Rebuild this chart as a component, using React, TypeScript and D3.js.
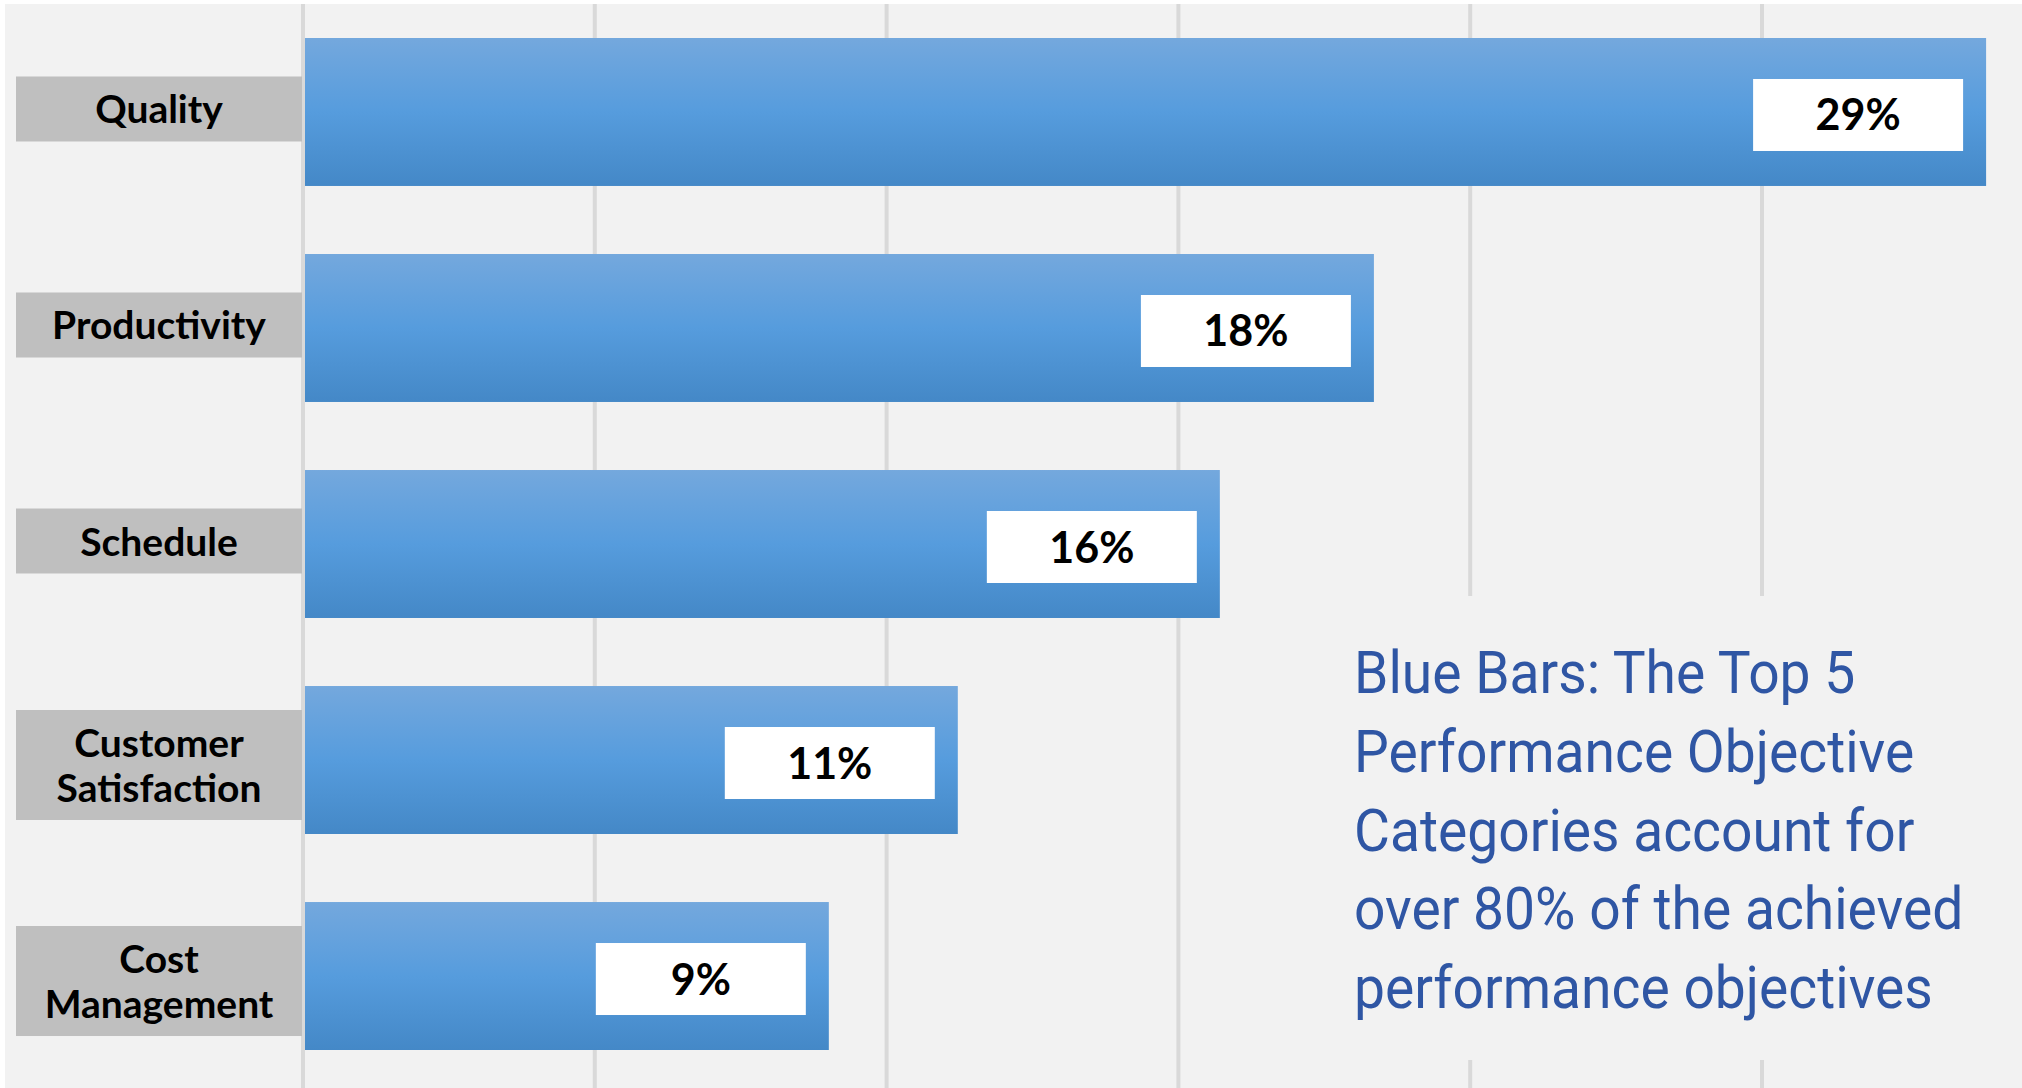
import React from "react";
import * as d3 from "d3";

const categories = ["Quality", "Productivity", "Schedule", "Customer Satisfaction", "Cost Management"];
const values = [28.84, 18.35, 15.71, 11.22, 9.01];
const gridTicks = [0, 5, 10, 15, 20, 25];
const noteLines = [
  "Blue Bars: The Top 5",
  "Performance Objective",
  "Categories account for",
  "over 80% of the achieved",
  "performance objectives",
];

const W = 2022;
const H = 1088;

export default function App() {
  const x = d3.scaleLinear().domain([0, 30]).range([303, 303 + 6 * 291.8]);
  const y = d3
    .scaleBand<string>()
    .domain(categories)
    .range([38, 1050])
    .paddingInner(0.315)
    .paddingOuter(0);
  const bw = y.bandwidth();
  const fmt = (v: number) => d3.format(".0f")(v) + "%";
  const labelFont = "Lato, 'Noto Sans', sans-serif";

  return (
    <div style={{ position: "absolute", left: 0, top: 0 }}>
      <svg width={W} height={H} viewBox={`0 0 ${W} ${H}`} style={{ display: "block" }}>
        <defs>
          <linearGradient id="barGrad" x1="0" y1="0" x2="0" y2="1">
            <stop offset="0%" stopColor="#74a8dd" />
            <stop offset="50%" stopColor="#569cdd" />
            <stop offset="100%" stopColor="#4488c7" />
          </linearGradient>
        </defs>
        <rect x={0} y={0} width={W} height={H} fill="#ffffff" />
        <rect x={5} y={4} width={W - 5} height={H - 4} fill="#f2f2f2" />

        {gridTicks.map((t) => (
          <line
            key={t}
            x1={x(t)}
            x2={x(t)}
            y1={4}
            y2={H}
            stroke="#d9d9d9"
            strokeWidth={4}
          />
        ))}

        {categories.map((c, i) => {
          const y0 = y(c) as number;
          const cy = y0 + bw / 2 + 3;
          const x0 = x(0) + 2;
          const x1 = x(values[i]);
          return (
            <g key={c}>
              <rect x={x0} y={y0} width={x1 - x0} height={bw} fill="url(#barGrad)" />
              <rect x={x1 - 23 - 210} y={cy - 36} width={210} height={72} fill="#ffffff" />
              <text
                x={x1 - 23 - 105}
                y={cy + 15.5}
                textAnchor="middle"
                fontFamily={labelFont}
                fontWeight={700}
                fontSize={43}
                fill="#000"
              >
                {fmt(values[i])}
              </text>
            </g>
          );
        })}

        {categories.map((c) => {
          const y0 = y(c) as number;
          const lines = c.split(" ");
          const cy = y0 + bw / 2 + (lines.length > 1 ? 5 : -3);
          const boxH = lines.length > 1 ? 110 : 65;
          const lh = 45;
          const firstBase = cy + 14.5 - ((lines.length - 1) * lh) / 2;
          return (
            <g key={"lab" + c}>
              <rect x={16} y={cy - boxH / 2} width={286} height={boxH} fill="#bfbfbf" />
              {lines.map((ln, j) => (
                <text
                  key={j}
                  x={159}
                  y={firstBase + j * lh}
                  textAnchor="middle"
                  fontFamily={labelFont}
                  fontWeight={700}
                  fontSize={39}
                  fill="#000"
                >
                  {ln}
                </text>
              ))}
            </g>
          );
        })}

        <rect x={1330} y={596} width={W - 1330} height={464} fill="#f2f2f2" />
        <g transform="translate(1354,0) scale(0.92,1)">
          {noteLines.map((ln, i) => (
            <text
              key={i}
              x={0}
              y={693 + i * 78.8}
              fontFamily="Roboto, sans-serif"
              fontSize={60}
              fill="#2f56a4"
            >
              {ln}
            </text>
          ))}
        </g>
      </svg>
    </div>
  );
}
